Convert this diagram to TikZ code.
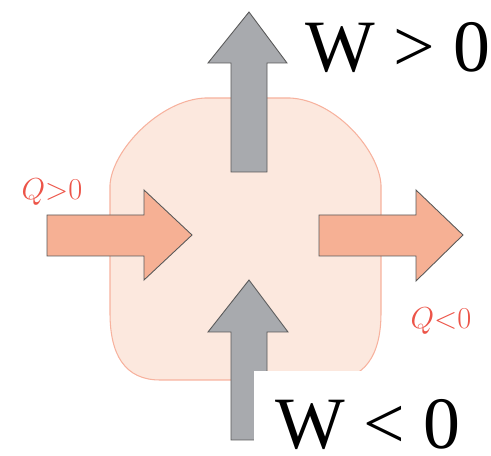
\documentclass[tikz,border=0pt]{standalone}
\usepackage{fontspec}
\setmainfont{Liberation Serif}
\usepackage{xcolor}
\usetikzlibrary{positioning}

\definecolor{blobfill}{RGB}{252,232,222}
\definecolor{blobline}{RGB}{247,178,158}
\definecolor{heatfill}{RGB}{246,176,148}
\definecolor{workfill}{RGB}{168,170,174}
\definecolor{qred}{RGB}{236,84,72}

\begin{document}
\begin{tikzpicture}[x=0.02cm, y=-0.02cm,
  system/.style={fill=blobfill, draw=blobline, line width=0.6pt},
  heat/.style={fill=heatfill, draw=black!65, line width=0.5pt, line join=miter},
  work/.style={fill=workfill, draw=black!65, line width=0.5pt, line join=miter},
  qlabel/.style={text=qred, font=\fontsize{18}{21}\selectfont, inner sep=0pt},
  wlabel/.style={font=\fontsize{42}{50}\selectfont, inner sep=0pt}
]
\useasboundingbox (0,0) rectangle (491,456);
% System
\draw[system] (110,313) -- (110,185) .. controls (112,150) and (160,100) .. (205,98)
  -- (290,98) .. controls (335,100) and (379,150) .. (381,185)
  -- (381,313) .. controls (381,355) and (365,380) .. (330,380)
  -- (160,380) .. controls (125,380) and (110,355) .. (110,313) -- cycle;
% Heat in / out
\draw[heat] (47,215) -- (144,215) -- (144,190) -- (192,235) -- (144,280)
  -- (144,256) -- (47,256) -- cycle;
\draw[heat] (319,215) -- (416,215) -- (416,190) -- (463,235) -- (416,281)
  -- (416,256) -- (319,256) -- cycle;
% Work out / in
\draw[work] (231,172) -- (231,63) -- (208,63) -- (249,12) -- (287,63)
  -- (267,63) -- (267,172) -- cycle;
\draw[work] (231,440) -- (231,332) -- (208,332) -- (249,280) -- (288,332)
  -- (267,332) -- (267,440) -- cycle;
% Labels
\node[qlabel] (qin) at (52,192) {$Q{>}0$};
\node[qlabel] (qout) at (441,321) {$Q{<}0$};
\node[wlabel, anchor=base west] (wout) at (305,72) {W > 0};
\node[fill=white, inner sep=0pt, anchor=north west,
  minimum width=4.74cm, minimum height=1.7cm] (cover) at (254,371) {};
\node[wlabel, anchor=base west] (win) at (275,449) {W < 0};
\end{tikzpicture}
\end{document}
